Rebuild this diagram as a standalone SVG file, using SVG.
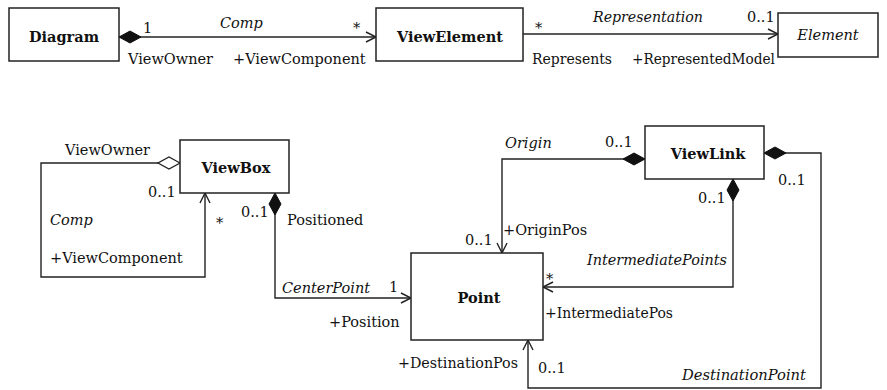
<svg xmlns="http://www.w3.org/2000/svg" width="887" height="390" viewBox="0 0 887 390">
  <style>
    text { font-family: "DejaVu Serif", serif; font-size: 14.5px; fill: #111; }
    .i { font-style: italic; }
    .b { font-weight: bold; text-anchor: middle; }
    .box { fill: #fff; stroke: #222; stroke-width: 1.5; }
    .ln { fill: none; stroke: #222; stroke-width: 1.4; }
  </style>
  <defs>
    <marker id="arrow" markerUnits="userSpaceOnUse" markerWidth="20" markerHeight="20" refX="0" refY="0" orient="auto" overflow="visible">
      <path d="M-10,-5 L0,0 L-10,5" fill="none" stroke="#222" stroke-width="1.4"/>
    </marker>
    <marker id="diamond" markerUnits="userSpaceOnUse" markerWidth="30" markerHeight="20" refX="0" refY="0" orient="auto-start-reverse" overflow="visible">
      <path d="M0,0 L-11,-6 L-22,0 L-11,6 Z" fill="#111" stroke="#111" stroke-width="1"/>
    </marker>
    <marker id="odiamond" markerUnits="userSpaceOnUse" markerWidth="30" markerHeight="20" refX="0" refY="0" orient="auto-start-reverse" overflow="visible">
      <path d="M0,0 L-11,-6 L-22,0 L-11,6 Z" fill="#fff" stroke="#222" stroke-width="1.3"/>
    </marker>
  </defs>

  <g id="connectors">
    <path class="ln" d="M119,37 H376" marker-start="url(#diamond)" marker-end="url(#arrow)"/>
    <path class="ln" d="M523,34 H778" marker-end="url(#arrow)"/>
    <path class="ln" d="M180,163 H41 V277 H205 V193" marker-start="url(#odiamond)" marker-end="url(#arrow)"/>
    <path class="ln" d="M275,193 V298 H411" marker-start="url(#diamond)" marker-end="url(#arrow)"/>
    <path class="ln" d="M645,159 H502 V253" marker-start="url(#diamond)" marker-end="url(#arrow)"/>
    <path class="ln" d="M733,179 V287 H543" marker-start="url(#diamond)" marker-end="url(#arrow)"/>
    <path class="ln" d="M764,153 H821 V388 H528 V340" marker-start="url(#diamond)" marker-end="url(#arrow)"/>

    <!-- Diagram / ViewElement association -->
    <text x="143" y="33">1</text>
    <text class="i" x="220" y="28">Comp</text>
    <text x="353" y="33">*</text>
    <text x="128" y="64">ViewOwner</text>
    <text x="233" y="64">+ViewComponent</text>

    <!-- ViewElement / Element association -->
    <text x="535" y="33">*</text>
    <text class="i" x="593" y="22" textLength="110" lengthAdjust="spacingAndGlyphs">Representation</text>
    <text x="747" y="22">0..1</text>
    <text x="532" y="64" textLength="80" lengthAdjust="spacingAndGlyphs">Represents</text>
    <text x="632" y="64" textLength="143" lengthAdjust="spacingAndGlyphs">+RepresentedModel</text>

    <!-- ViewBox self composition -->
    <text x="65" y="155">ViewOwner</text>
    <text x="148" y="197">0..1</text>
    <text class="i" x="50" y="225">Comp</text>
    <text x="50" y="263">+ViewComponent</text>
    <text x="216" y="228">*</text>

    <!-- ViewBox / Point -->
    <text x="241" y="217">0..1</text>
    <text x="287" y="225">Positioned</text>
    <text class="i" x="282" y="293">CenterPoint</text>
    <text x="389" y="292">1</text>
    <text x="329" y="327">+Position</text>

    <!-- ViewLink / Point -->
    <text class="i" x="505" y="148">Origin</text>
    <text x="605" y="147">0..1</text>
    <text x="465" y="245">0..1</text>
    <text x="503" y="235">+OriginPos</text>
    <text x="698" y="203">0..1</text>
    <text class="i" x="587" y="265" textLength="140" lengthAdjust="spacingAndGlyphs">IntermediatePoints</text>
    <text x="546" y="284">*</text>
    <text x="545" y="318" textLength="128" lengthAdjust="spacingAndGlyphs">+IntermediatePos</text>
    <text x="778" y="185">0..1</text>
    <text x="398" y="368" textLength="120" lengthAdjust="spacingAndGlyphs">+DestinationPos</text>
    <text x="538" y="373">0..1</text>
    <text class="i" x="682" y="380" textLength="124" lengthAdjust="spacingAndGlyphs">DestinationPoint</text>
  </g>

  <g id="Diagram">
    <rect class="box" x="9" y="8" width="110" height="53"/>
    <text class="b" x="64" y="42">Diagram</text>
  </g>
  <g id="ViewElement">
    <rect class="box" x="376" y="8" width="147" height="53"/>
    <text class="b" x="450" y="42">ViewElement</text>
  </g>
  <g id="Element">
    <rect class="box" x="778" y="13" width="100" height="44"/>
    <text class="i" x="828" y="40" text-anchor="middle">Element</text>
  </g>
  <g id="ViewBox">
    <rect class="box" x="180" y="140" width="109" height="53"/>
    <text class="b" x="236" y="173">ViewBox</text>
  </g>
  <g id="Point">
    <rect class="box" x="411" y="253" width="132" height="87"/>
    <text class="b" x="479" y="303">Point</text>
  </g>
  <g id="ViewLink">
    <rect class="box" x="645" y="126" width="119" height="53"/>
    <text class="b" x="708" y="159">ViewLink</text>
  </g>
</svg>
